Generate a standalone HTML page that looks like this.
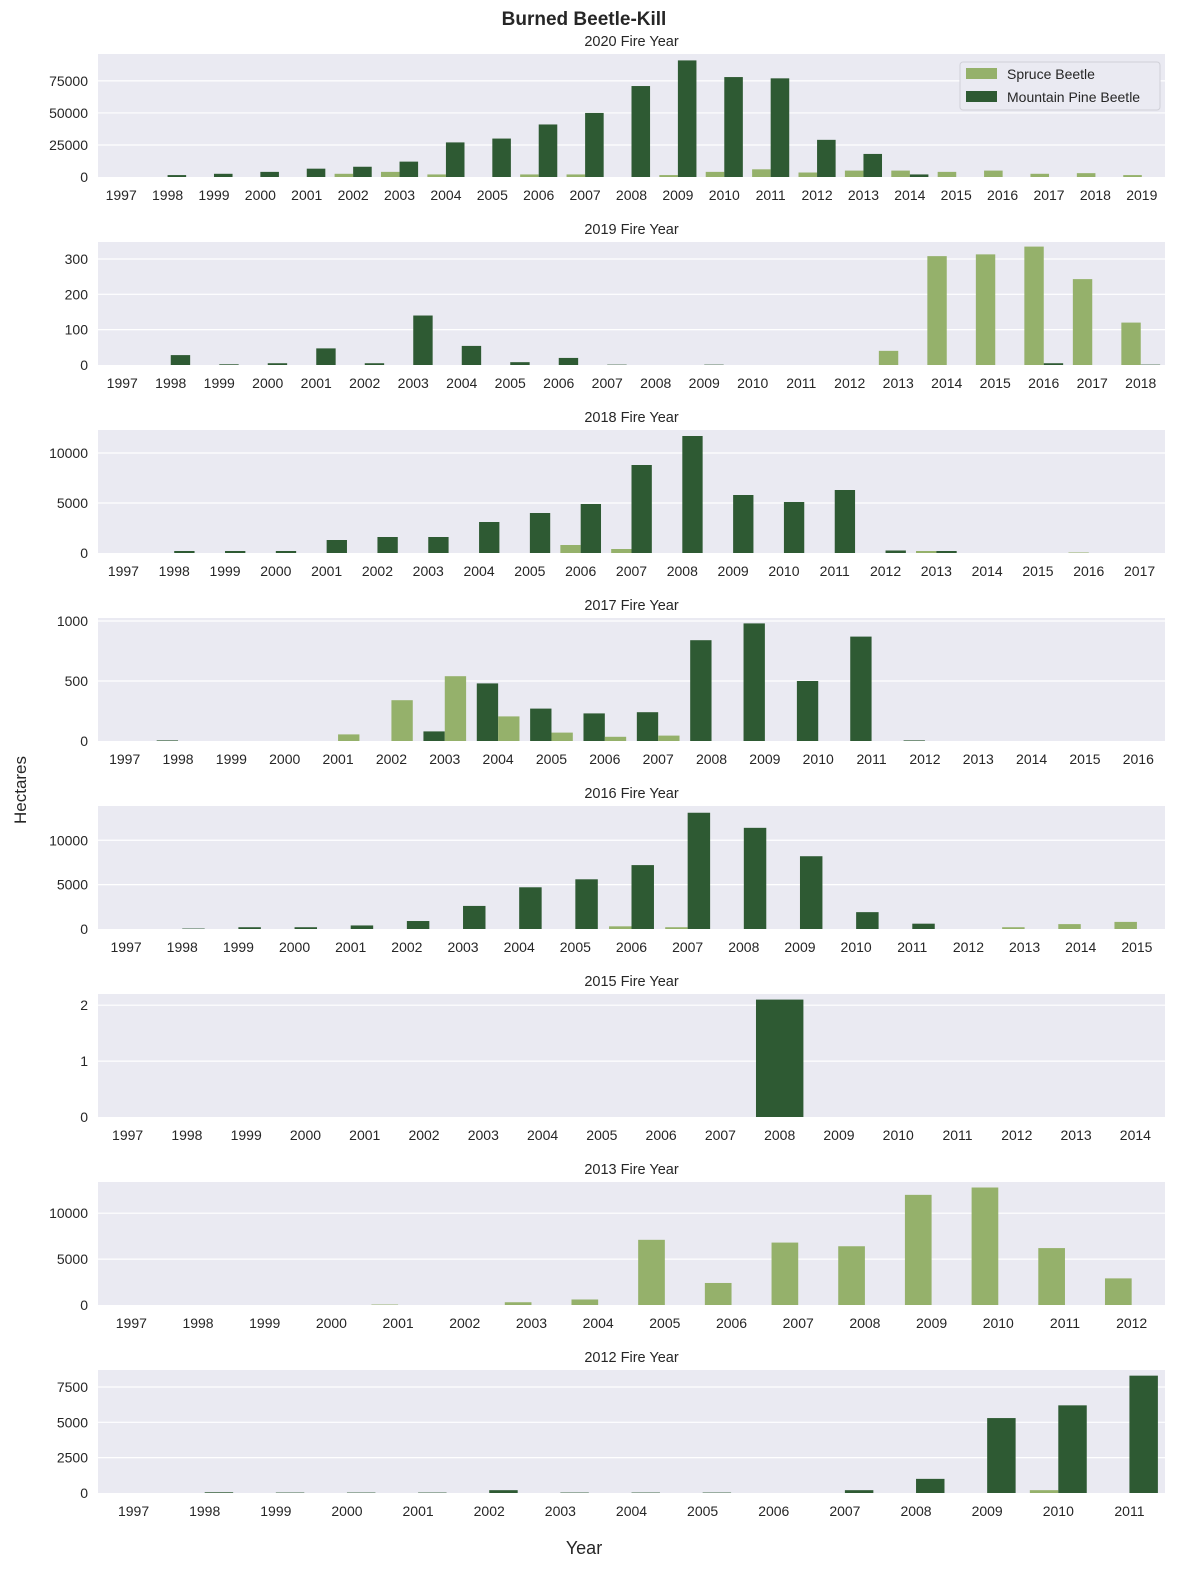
<!DOCTYPE html>
<html><head><meta charset="utf-8">
<style>
body{margin:0;background:#fff;font-family:"Liberation Sans",sans-serif;}
svg text{font-family:"Liberation Sans",sans-serif;fill:#262626;}
</style></head>
<body>
<svg id="chart" width="1178" height="1572" xmlns="http://www.w3.org/2000/svg">
<text x="584" y="25" text-anchor="middle" font-size="19" font-weight="bold">Burned Beetle-Kill</text>
<text x="26" y="790" text-anchor="middle" font-size="17" transform="rotate(-90 26 790)">Hectares</text>
<text x="584" y="1554" text-anchor="middle" font-size="18">Year</text>
</svg>
<script>
const fireYears = [2020, 2019, 2018, 2017, 2016, 2015, 2013, 2012];
const spruce2020 = [0,0,0,0,0,2500,4000,2000,0,2000,2000,0,1500,4000,6000,3500,5000,5000,4000,5000,2500,3000,1500];
const mpb2020 = [0,1500,2500,4000,6500,8000,12000,27000,30000,41000,50000,71000,91000,78000,77000,29000,18000,2000,0,0,0,0,0];
const spruce2019 = [0,0,0,0,0,0,0,0,0,0,0,0,0,0,0,0,40,308,313,335,243,120];
const mpb2019 = [0,28,2,5,47,5,140,54,8,20,1,0,1,0,0,0,0,0,0,5,0,1];
const spruce2018 = [0,0,0,0,0,0,0,0,0,800,400,0,0,0,0,0,200,0,0,50,0];
const mpb2018 = [0,200,200,200,1300,1600,1600,3100,4000,4900,8800,11700,5800,5100,6300,250,200,0,0,0,0];
const spruce2017 = [0,0,0,0,55,340,540,205,70,35,45,0,0,0,0,0,0,0,0,0];
const mpb2017 = [0,5,0,0,0,0,80,480,270,230,240,840,980,500,870,5,0,0,0,0];
const spruce2016 = [0,0,0,0,0,0,0,0,0,300,200,0,0,0,0,0,200,550,800];
const mpb2016 = [0,50,200,200,400,900,2600,4700,5600,7200,13100,11400,8200,1900,600,0,0,0,0];
const mpb2015 = [0,0,0,0,0,0,0,0,0,0,0,2.1,0,0,0,0,0,0];
const spruce2013 = [0,0,0,0,50,0,300,600,7100,2400,6800,6400,12000,12800,6200,2900];
const mpb2013 = [0,0,0,0,0,0,0,0,0,0,0,0,0,0,0,0];
const spruce2012 = [0,0,0,0,0,0,0,0,0,0,0,0,0,200,0];
const mpb2012 = [0,50,30,30,30,200,30,30,30,0,200,1000,5300,6200,8300];
const yTicks = [[0,25000,50000,75000],[0,100,200,300],[0,5000,10000],[0,500,1000],[0,5000,10000],[0,1,2],[0,5000,10000],[0,2500,5000,7500]];
const yMax = [96000,348,12300,1025,13860,2.2,13400,8700];
const spruceSeries = [spruce2020,spruce2019,spruce2018,spruce2017,spruce2016,null,spruce2013,spruce2012];
const mpbSeries = [mpb2020,mpb2019,mpb2018,mpb2017,mpb2016,mpb2015,mpb2013,mpb2012];

const NS="http://www.w3.org/2000/svg";
const svg=document.getElementById('chart');
const LIGHT="#95b16b", DARK="#2e5a33";
const L=98,R=1165,H=123;
const tops=[54,242,430,618,806,994,1182,1370];
function mk(tag,attrs,parent){const e=document.createElementNS(NS,tag);for(const k in attrs)e.setAttribute(k,attrs[k]);(parent||svg).appendChild(e);return e;}

fireYears.forEach((fy,p)=>{
  const g=mk('g',{});
  
  
  const top=tops[p],bot=top+H;
  const cats=[];for(let y=1997;y<fy;y++)cats.push(y);
  const n=cats.length,step=(R-L)/n;
  const yS=v=>bot-v/yMax[p]*H;
  const xC=i=>L+step*(i+0.5);
  const bg=mk('rect',{x:L,y:top,width:R-L,height:H,fill:"#eaeaf2"},g);
  
  
  const t=mk('text',{x:(L+R)/2,y:top-8,'text-anchor':'middle','font-size':14.5},g);
  t.textContent=fy+' Fire Year';
  
  
  yTicks[p].forEach(v=>{
    const y=yS(v);
    if(v>0){const gl=mk('line',{x1:L,x2:R,y1:y,y2:y,stroke:'#fff','stroke-width':1.2},g);
      
      }
    const tl=mk('text',{x:L-10,y:y+5,'text-anchor':'end','font-size':14},g);
    tl.textContent=v;
    
    
  });
  cats.forEach((c,i)=>{
    const tl=mk('text',{x:xC(i),y:bot+23,'text-anchor':'middle','font-size':14},g);
    tl.textContent=c;
    
    
  });
  const sp=spruceSeries[p],mp=mpbSeries[p];
  let order;
  if(!sp) order=[[mp,DARK,'mpb-bar']];
  else if(p===3) order=[[mp,DARK,'mpb-bar'],[sp,LIGHT,'spruce-bar']];
  else order=[[sp,LIGHT,'spruce-bar'],[mp,DARK,'mpb-bar']];
  const bw=step*0.8/order.length;
  order.forEach((o,k)=>{
    o[0].forEach((v,i)=>{
      if(v<=0)return;
      const x=xC(i)-step*0.4+k*bw;
      const r=mk('rect',{x:x,y:yS(v),width:bw,height:bot-yS(v),fill:o[1]},g);
      
      
    });
  });
});
const lg=mk('g',{});


mk('rect',{x:960,y:62,width:200,height:48,rx:3,fill:'#eaeaf2',stroke:'#d0d0d8'},lg);
[[LIGHT,'Spruce Beetle',74],[DARK,'Mountain Pine Beetle',97]].forEach(e=>{
  const s=mk('rect',{x:966,y:e[2]-6,width:31,height:11,fill:e[0]},lg);
  
  
  const t=mk('text',{x:1007,y:e[2]+5,'font-size':14},lg);
  t.textContent=e[1];
  
  
});
</script>
</body></html>
